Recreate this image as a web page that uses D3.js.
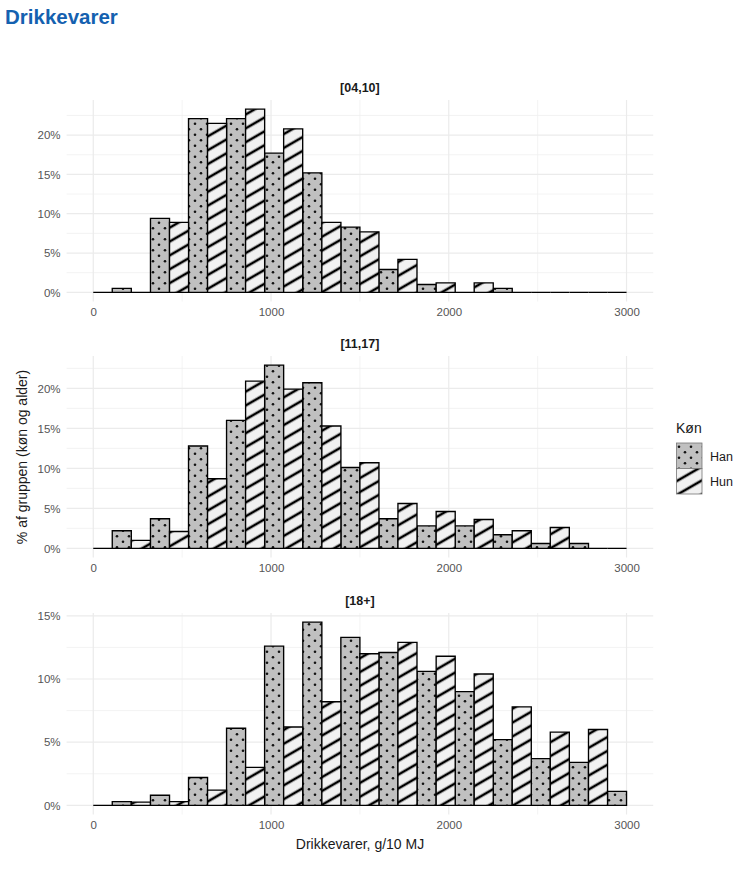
<!DOCTYPE html>
<html>
<head>
<meta charset="utf-8">
<script src="https://cdn.jsdelivr.net/npm/d3@7"></script>
<style>
  body { margin: 0; background: #fff; }
  text { font-family: "Liberation Sans", Arial, sans-serif; }
</style>
</head>
<body>
<div id="chart"></div>
<script>
// Bin centres (g/10 MJ) and the three age groups
const binCenters = [0, 214, 429, 643, 857, 1071, 1286, 1500, 1714, 1929, 2143, 2357, 2571, 2786, 3000];
const binWidth = 214.3;
const groups = ["[04,10]", "[11,17]", "[18+]"];

// % of group per bin, null = outside the x limits
const han0410 = [null, 0.5, 9.4, 22.1, 22.1, 17.7, 15.2, 8.3, 2.9, 1.0, 0, 0.5, 0, 0, 0];
const hun0410 = [0, 0, 8.9, 21.5, 23.3, 20.8, 8.9, 7.7, 4.2, 1.2, 1.2, 0, 0, 0, null];
const han1117 = [null, 2.2, 3.7, 12.8, 16.0, 22.9, 20.7, 10.1, 3.7, 2.8, 2.8, 1.7, 0.6, 0.6, 0];
const hun1117 = [0, 1.0, 2.1, 8.7, 20.9, 19.9, 15.3, 10.7, 5.6, 4.6, 3.6, 2.2, 2.6, 0, null];
const han18 = [null, 0.3, 0.8, 2.2, 6.1, 12.6, 14.5, 13.3, 12.1, 10.6, 9.0, 5.2, 3.7, 3.4, 1.1];
const hun18 = [0, 0.25, 0.3, 1.2, 3.0, 6.2, 8.2, 12.0, 12.9, 11.8, 10.4, 7.8, 5.8, 6.0, null];

const sexes = ["Han", "Hun"];
const xTicks = [0, 1000, 2000, 3000];
const yTicks = [0, 5, 10, 15, 20];

const panelData = [
  { label: groups[0], Han: han0410, Hun: hun0410 },
  { label: groups[1], Han: han1117, Hun: hun1117 },
  { label: groups[2], Han: han18, Hun: hun18 }
];

const width = 753, height = 874;
const svg = d3.select("#chart").append("svg")
  .attr("width", width)
  .attr("height", height);

// fill patterns: dots for Han, stripes for Hun
const defs = svg.append("defs");
const dots = defs.append("pattern")
  .attr("id", "pat-Han")
  .attr("patternUnits", "userSpaceOnUse")
  .attr("width", 12).attr("height", 11);
dots.append("rect").attr("width", 12).attr("height", 11).attr("fill", "#c0c0c0");
dots.append("circle").attr("cx", 3).attr("cy", 2.75).attr("r", 1.3).attr("fill", "#111");
dots.append("circle").attr("cx", 9).attr("cy", 8.25).attr("r", 1.3).attr("fill", "#111");

const stripes = defs.append("pattern")
  .attr("id", "pat-Hun")
  .attr("patternUnits", "userSpaceOnUse")
  .attr("width", 12).attr("height", 12)
  .attr("patternTransform", "rotate(-30)");
stripes.append("rect").attr("width", 12).attr("height", 12).attr("fill", "#f1f1f1");
stripes.append("line")
  .attr("x1", -1).attr("x2", 13).attr("y1", 6).attr("y2", 6)
  .attr("stroke", "#000").attr("stroke-width", 2.6);

// title
svg.append("text")
  .attr("x", 5).attr("y", 24)
  .attr("font-family", "'Open Sans', sans-serif")
  .attr("font-weight", "bold")
  .attr("font-size", 20.5)
  .attr("fill", "#1461b0")
  .text("Drikkevarer");

// shared x scale
const xScale = d3.scaleLinear()
  .domain([-150, 3150])
  .range([66.6, 653.2]);

const panelTops = [100, 356, 613];
const panelH = 201.5;

panelData.forEach((p, i) => {
  const top = panelTops[i];
  const bottom = top + panelH;
  const maxVal = d3.max([...p.Han, ...p.Hun]);
  const pad = maxVal * 0.05;

  const yScale = d3.scaleLinear()
    .domain([-pad, maxVal + pad])
    .range([bottom, top]);

  const g = svg.append("g");

  // grid: minor then major
  const minorX = [500, 1500, 2500];
  const minorY = d3.range(2.5, maxVal + pad, 5);
  const majorY = yTicks.filter(t => t <= maxVal + pad);

  g.selectAll(".minx").data(minorX).join("line")
    .attr("x1", d => xScale(d)).attr("x2", d => xScale(d))
    .attr("y1", top).attr("y2", bottom)
    .attr("stroke", "#f0f0f0").attr("stroke-width", 0.8);
  g.selectAll(".miny").data(minorY).join("line")
    .attr("x1", xScale.range()[0]).attr("x2", xScale.range()[1])
    .attr("y1", d => yScale(d)).attr("y2", d => yScale(d))
    .attr("stroke", "#f0f0f0").attr("stroke-width", 0.8);
  g.selectAll(".majx").data(xTicks).join("line")
    .attr("x1", d => xScale(d)).attr("x2", d => xScale(d))
    .attr("y1", top).attr("y2", bottom)
    .attr("stroke", "#ebebeb").attr("stroke-width", 1.2);
  g.selectAll(".majy").data(majorY).join("line")
    .attr("x1", xScale.range()[0]).attr("x2", xScale.range()[1])
    .attr("y1", d => yScale(d)).attr("y2", d => yScale(d))
    .attr("stroke", "#ebebeb").attr("stroke-width", 1.2);

  // bars, dodged inside each bin; paths so that zero-height bars still draw a line
  const bars = [];
  sexes.forEach((s, j) => {
    p[s].forEach((v, k) => {
      if (v === null) return;
      const x0 = binCenters[k] - binWidth / 2 + j * binWidth / 2;
      bars.push({ sex: s, x0: x0, x1: x0 + binWidth / 2, v: v });
    });
  });

  g.selectAll(".bar").data(bars).join("path")
    .attr("d", d => {
      const a = xScale(d.x0), b = xScale(d.x1);
      const y0 = yScale(0), y1 = yScale(d.v);
      return `M${a},${y0}V${y1}H${b}V${y0}Z`;
    })
    .attr("fill", d => `url(#pat-${d.sex})`)
    .attr("stroke", "#000")
    .attr("stroke-width", 1.35)
    .attr("stroke-linejoin", "miter");

  // axes text
  const yAxis = d3.axisLeft(yScale).tickValues(majorY).tickSize(0).tickPadding(6)
    .tickFormat(d => d + "%");
  const ya = g.append("g")
    .attr("transform", `translate(${xScale.range()[0]},0)`)
    .call(yAxis);
  ya.select(".domain").remove();
  ya.selectAll("text").attr("font-size", 11.5).attr("fill", "#555");

  const xAxis = d3.axisBottom(xScale).tickValues(xTicks).tickSize(0).tickPadding(6)
    .tickFormat(d3.format("d"));
  const xa = g.append("g")
    .attr("transform", `translate(0,${bottom})`)
    .call(xAxis);
  xa.select(".domain").remove();
  xa.selectAll("text").attr("font-size", 11.5).attr("fill", "#555");

  // strip label
  g.append("text")
    .attr("x", (xScale.range()[0] + xScale.range()[1]) / 2)
    .attr("y", top - 8)
    .attr("text-anchor", "middle")
    .attr("font-size", 12.5)
    .attr("font-weight", "bold")
    .attr("fill", "#1a1a1a")
    .text(p.label);
});

// axis titles
svg.append("text")
  .attr("x", 360).attr("y", 849)
  .attr("text-anchor", "middle")
  .attr("font-size", 14)
  .attr("fill", "#1a1a1a")
  .text("Drikkevarer, g/10 MJ");

svg.append("text")
  .attr("transform", "translate(27,457) rotate(-90)")
  .attr("text-anchor", "middle")
  .attr("font-size", 14)
  .attr("fill", "#1a1a1a")
  .text("% af gruppen (køn og alder)");

// legend
const legend = svg.append("g").attr("transform", "translate(676,433)");
legend.append("text")
  .attr("x", 0).attr("y", 0)
  .attr("font-size", 14)
  .attr("fill", "#1a1a1a")
  .text("Køn");
sexes.forEach((s, j) => {
  legend.append("rect")
    .attr("x", 0.5).attr("y", 10 + j * 25.5)
    .attr("width", 25.5).attr("height", 25.5)
    .attr("fill", `url(#pat-${s})`)
    .attr("stroke", "#777").attr("stroke-width", 0.8);
  legend.append("text")
    .attr("x", 34).attr("y", 10 + j * 25.5 + 17.5)
    .attr("font-size", 12.5)
    .attr("fill", "#1a1a1a")
    .text(s);
});
</script>
</body>
</html>
